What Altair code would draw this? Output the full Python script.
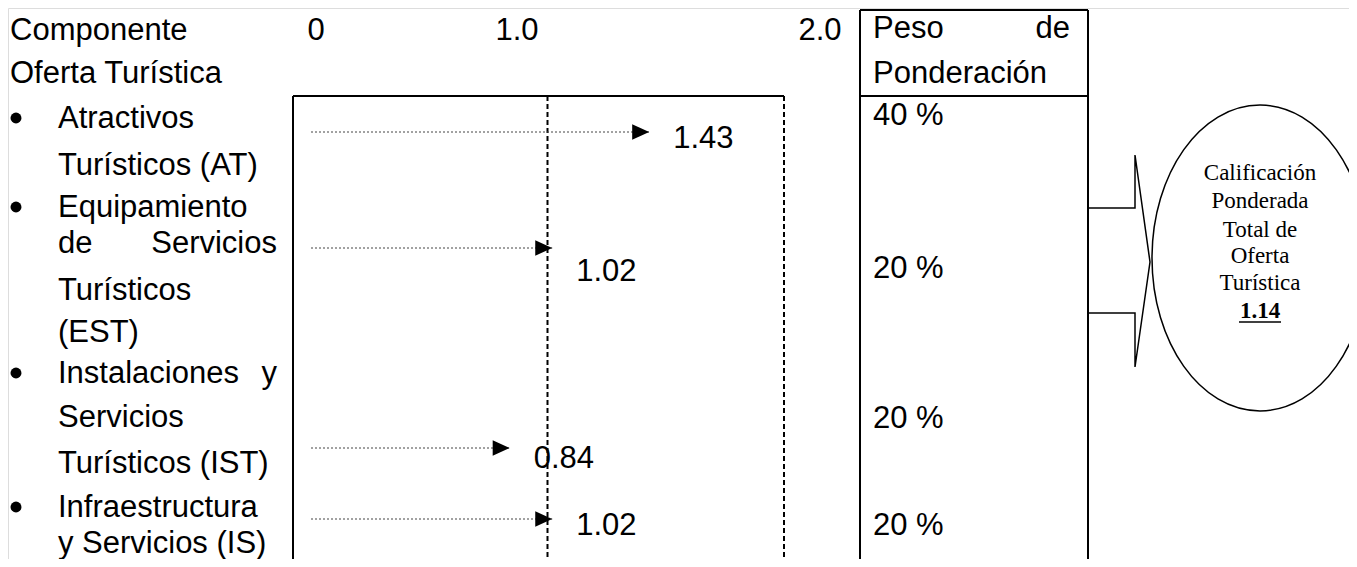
import altair as alt
import pandas as pd

# ---------------- data ----------------
components = ["AT", "EST", "IST", "IS"]
scores = [1.43, 1.02, 0.84, 1.02]
score_labels = ["1.43", "1.02", "0.84", "1.02"]
weights = ["40 %", "20 %", "20 %", "20 %"]
tick_labels = ["0", "1.0", "2.0"]
grid_values = [1.0, 2.0]
header_left = ["Componente", "Oferta Turística"]
header_right = ["Peso", "de", "Ponderación"]
total_lines = ["Calificación", "Ponderada", "Total de", "Oferta", "Turística"]
total_score = "1.14"
left_lines = ["Atractivos", "Turísticos (AT)", "Equipamiento", "de", "Servicios",
              "Turísticos", "(EST)", "Instalaciones", "y", "Servicios",
              "Turísticos (IST)", "Infraestructura", "y Servicios (IS)"]

# ---------------- layout (page pixels) ----------------
W, H = 1341, 551
X0, Y0 = 8, 8
BOTTOM = 570
SANS = "Liberation Sans"
SERIF = "Liberation Serif"
FS = 31

px_x = alt.Scale(domain=[X0, X0 + W], nice=False, zero=False)
px_y = alt.Scale(domain=[Y0, Y0 + H], reverse=True, nice=False, zero=False)
val_x = alt.Scale(domain=[0, 2], range=[311 - X0, 784 - X0], nice=False, zero=False)

row_y = [132, 248, 448, 519]
label_y = [148, 281, 468, 535]
weight_y = [125, 278, 428, 535]
tick_x = [316, 517, 820]
left_x = [58] * 13
left_align = ["left"] * 13
left_x[4] = 277
left_align[4] = "right"
left_x[8] = 277
left_align[8] = "right"
left_y = [128, 175, 217, 253, 253, 300, 342, 383, 383, 427, 473, 517, 553]
bullet_y = [118, 207, 373, 507]
total_y = [180, 208, 237, 263, 290]

# ---------------- tables ----------------
arrows = pd.DataFrame({"comp": components, "start": [0.0] * 4, "score": scores,
                       "label": score_labels, "ry": row_y, "ly": label_y})
grid = pd.DataFrame({"g": grid_values, "y1": [96] * 2, "y2": [BOTTOM] * 2})

texts = []
texts += [dict(t=header_left[0], x=10, y=40, a="left"), dict(t=header_left[1], x=10, y=83, a="left")]
texts += [dict(t=header_right[0], x=873, y=38, a="left"), dict(t=header_right[1], x=1070, y=38, a="right"),
          dict(t=header_right[2], x=873, y=83, a="left")]
texts += [dict(t=tl, x=x, y=40, a="center") for tl, x in zip(tick_labels, tick_x)]
texts += [dict(t=tl, x=x, y=y, a=a) for tl, x, y, a in zip(left_lines, left_x, left_y, left_align)]
texts += [dict(t=w, x=873, y=y, a="left") for w, y in zip(weights, weight_y)]
texts_df = pd.DataFrame(texts)
bullets = pd.DataFrame({"x": [16] * 4, "y": bullet_y})

serif_df = pd.DataFrame({"t": total_lines, "x": [1260] * 5, "y": total_y})
bold_df = pd.DataFrame({"t": [total_score], "x": [1260], "y": [318]})

segs = pd.DataFrame([
    dict(x=293, x2=293, y=96, y2=BOTTOM),
    dict(x=293, x2=784, y=96, y2=96),
    dict(x=860, x2=1088, y=10, y2=10),
    dict(x=860, x2=1088, y=96, y2=96),
    dict(x=860, x2=860, y=10, y2=BOTTOM),
    dict(x=1088, x2=1088, y=10, y2=BOTTOM),
])
underline = pd.DataFrame([dict(x=1239, x2=1281, y=322, y2=322)])

block = pd.DataFrame({
    "x": [1087, 1135, 1135, 1150, 1135, 1135, 1087],
    "y": [208, 208, 155, 262, 367, 313, 313],
    "o": list(range(7)),
})
ell = pd.DataFrame({"x": [1260], "y": [258]})
ELLIPSE = ("M -0.7059,0 C -0.7059,-0.5523 -0.3899,-1 0,-1 C 0.3899,-1 0.7059,-0.5523 0.7059,0 "
           "C 0.7059,0.5523 0.3899,1 0,1 C -0.3899,1 -0.7059,0.5523 -0.7059,0 Z")
TRI = "M -1,-0.45 L 0,0 L -1,0.45 Z"

# ---------------- layers ----------------
frame = alt.Chart(segs).mark_rule(color="black", strokeWidth=2).encode(
    x=alt.X("x:Q", scale=px_x, axis=None), x2="x2:Q",
    y=alt.Y("y:Q", scale=px_y, axis=None), y2="y2:Q")

uline = alt.Chart(underline).mark_rule(color="black", strokeWidth=1.5).encode(
    x=alt.X("x:Q", scale=px_x, axis=None), x2="x2:Q",
    y=alt.Y("y:Q", scale=px_y, axis=None), y2="y2:Q")

gridl = alt.Chart(grid).mark_rule(color="black", strokeWidth=2, strokeDash=[5, 3]).encode(
    x=alt.X("g:Q", scale=val_x, axis=None),
    y=alt.Y("y1:Q", scale=px_y, axis=None), y2="y2:Q")

shaft = alt.Chart(arrows).mark_rule(color="#444", strokeWidth=1, strokeDash=[2, 2]).encode(
    x=alt.X("start:Q", scale=val_x, axis=None), x2="score:Q",
    y=alt.Y("ry:Q", scale=px_y, axis=None))

heads = alt.Chart(arrows).mark_point(shape=TRI, size=1156, filled=True, color="black", opacity=1).encode(
    x=alt.X("score:Q", scale=val_x, axis=None),
    y=alt.Y("ry:Q", scale=px_y, axis=None))

vlabels = alt.Chart(arrows).mark_text(font=SANS, fontSize=FS, align="left", baseline="alphabetic",
                                      dx=24, color="black").encode(
    x=alt.X("score:Q", scale=val_x, axis=None),
    y=alt.Y("ly:Q", scale=px_y, axis=None),
    text="label:N")

def text_layer(df, align):
    return alt.Chart(df).mark_text(font=SANS, fontSize=FS, align=align, baseline="alphabetic",
                                   color="black").encode(
        x=alt.X("x:Q", scale=px_x, axis=None),
        y=alt.Y("y:Q", scale=px_y, axis=None),
        text="t:N")

t_left = text_layer(texts_df[texts_df.a == "left"], "left")
t_right = text_layer(texts_df[texts_df.a == "right"], "right")
t_center = text_layer(texts_df[texts_df.a == "center"], "center")

dots = alt.Chart(bullets).mark_point(shape="circle", size=120, filled=True, color="black", opacity=1).encode(
    x=alt.X("x:Q", scale=px_x, axis=None),
    y=alt.Y("y:Q", scale=px_y, axis=None))

serif = alt.Chart(serif_df).mark_text(font=SERIF, fontSize=23, align="center", baseline="alphabetic",
                                      color="black").encode(
    x=alt.X("x:Q", scale=px_x, axis=None),
    y=alt.Y("y:Q", scale=px_y, axis=None),
    text="t:N")

bold = alt.Chart(bold_df).mark_text(font=SERIF, fontSize=23, fontWeight="bold", align="center",
                                    baseline="alphabetic", color="black").encode(
    x=alt.X("x:Q", scale=px_x, axis=None),
    y=alt.Y("y:Q", scale=px_y, axis=None),
    text="t:N")

barrow = alt.Chart(block).mark_line(color="black", strokeWidth=1.5).encode(
    x=alt.X("x:Q", scale=px_x, axis=None),
    y=alt.Y("y:Q", scale=px_y, axis=None),
    order="o:Q")

ellipse = alt.Chart(ell).mark_point(shape=ELLIPSE, size=93636, filled=False, stroke="black",
                                    strokeWidth=1.5, opacity=1).encode(
    x=alt.X("x:Q", scale=px_x, axis=None),
    y=alt.Y("y:Q", scale=px_y, axis=None))

chart = alt.layer(
    frame, gridl, shaft, heads, vlabels, t_left, t_right, t_center, dots,
    barrow, ellipse, serif, bold, uline
).resolve_scale(x="independent").properties(
    width=W, height=H, padding=0, autosize=alt.AutoSizeParams(type="none")
).configure_view(stroke=None).configure(background="white")

chart.save("out.html", embed_options={"renderer": "svg", "actions": False})
